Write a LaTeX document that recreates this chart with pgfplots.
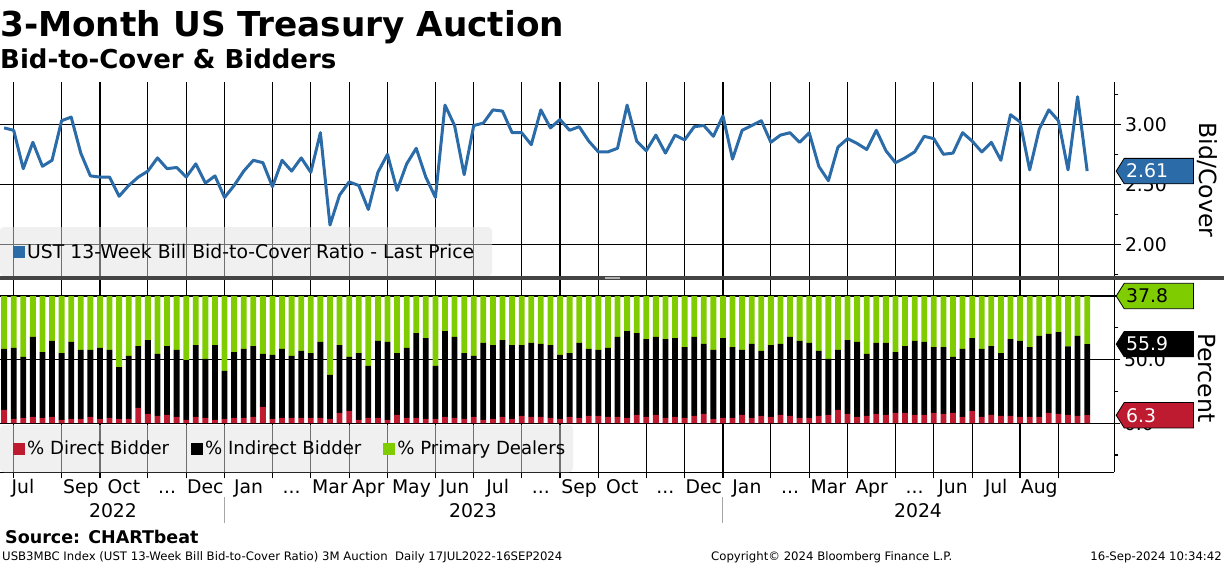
\documentclass[border=0pt]{standalone}
\usepackage{fontspec}
\setmainfont{DejaVu Sans}
\usepackage{pgfplots}
\pgfplotsset{compat=1.18}
\usepackage{pgfplotstable}
\definecolor{bbblue}{HTML}{2B6BA8}
\definecolor{bbred}{HTML}{BE1A30}
\definecolor{bbgreen}{HTML}{7FCC00}
\definecolor{leggray}{HTML}{E1E1E1}
\definecolor{sepgray}{HTML}{444444}
\newcommand{\fs}{\fontsize{18.8pt}{22pt}\selectfont}
\newcommand{\dd}{.\kern0pt.\kern0pt.}

\pgfplotstableread{
i btc dir ind pd
0 2.97 10.5 47.9 41.6
1 2.95 3.4 55.8 40.8
2 2.63 4.2 47.9 47.9
3 2.85 5.0 62.8 32.2
4 2.65 4.2 51.8 44.0
5 2.70 5.0 59.7 35.3
6 3.03 2.6 52.6 44.8
7 3.06 3.4 60.5 36.1
8 2.76 3.4 54.2 42.4
9 2.57 5.0 52.6 42.4
10 2.56 3.4 55.8 40.8
11 2.56 4.2 53.4 42.4
12 2.40 3.4 40.8 55.8
13 2.49 3.4 49.5 47.1
14 2.56 12.0 48.7 39.3
15 2.61 7.3 58.1 34.6
16 2.72 5.8 48.7 45.5
17 2.63 6.5 54.2 39.3
18 2.64 5.0 52.6 42.4
19 2.56 2.6 47.1 50.3
20 2.67 5.0 56.5 38.5
21 2.51 4.2 46.3 49.5
22 2.57 2.6 58.9 38.5
23 2.39 3.4 37.7 58.9
24 2.49 4.2 51.8 44.0
25 2.61 4.2 54.2 41.6
26 2.70 5.0 55.7 39.3
27 2.68 12.8 41.7 45.5
28 2.48 3.4 50.3 46.3
29 2.70 4.2 54.2 41.6
30 2.61 4.2 48.7 47.1
31 2.72 4.2 52.6 43.2
32 2.60 4.2 51.0 44.8
33 2.93 4.2 59.7 36.1
34 2.16 3.4 34.6 62.0
35 2.41 8.1 53.4 38.5
36 2.52 9.7 42.4 47.9
37 2.49 2.6 52.6 44.8
38 2.29 4.2 40.8 55.0
39 2.60 4.2 60.5 35.3
40 2.75 2.6 61.3 36.1
41 2.45 6.5 48.7 44.8
42 2.67 4.2 55.0 40.8
43 2.80 4.2 66.7 29.1
44 2.56 3.4 63.6 33.0
45 2.39 3.4 41.6 55.0
46 3.16 5.0 67.5 27.5
47 2.99 4.2 63.6 32.2
48 2.58 3.4 51.8 44.8
49 2.99 5.0 47.9 47.1
50 3.01 2.6 60.5 36.9
51 3.12 3.4 58.1 38.5
52 3.11 5.0 60.4 34.6
53 2.93 3.4 58.1 38.5
54 2.93 5.8 55.7 38.5
55 2.83 5.0 58.1 36.9
56 3.12 5.0 57.3 37.7
57 2.97 4.2 57.3 38.5
58 3.04 3.4 50.3 46.3
59 2.95 5.0 50.2 44.8
60 2.98 4.2 58.9 36.9
61 2.86 5.8 52.6 41.6
62 2.77 5.8 51.8 42.4
63 2.77 5.0 54.2 40.8
64 2.80 5.0 62.8 32.2
65 3.16 4.2 68.3 27.5
66 2.86 6.5 64.4 29.1
67 2.78 5.0 61.2 33.8
68 2.91 6.5 61.3 32.2
69 2.76 4.2 62.0 33.8
70 2.91 5.0 62.0 33.0
71 2.87 4.2 55.7 40.1
72 2.98 5.8 62.0 32.2
73 2.99 7.3 55.0 37.7
74 2.90 3.4 54.2 42.4
75 3.07 4.2 62.8 33.0
76 2.71 4.2 55.7 40.1
77 2.95 6.5 51.1 42.4
78 2.99 4.2 58.1 37.7
79 3.03 5.8 51.0 43.2
80 2.85 5.0 56.5 38.5
81 2.91 6.5 55.8 37.7
82 2.93 5.8 62.0 32.2
83 2.85 4.2 60.5 35.3
84 2.93 4.2 58.9 36.9
85 2.65 5.8 51.0 43.2
86 2.53 6.5 44.0 49.5
87 2.81 10.5 47.1 42.4
88 2.88 7.3 58.1 34.6
89 2.84 5.0 58.9 36.1
90 2.79 5.8 48.7 45.5
91 2.95 7.3 55.8 36.9
92 2.78 6.5 56.6 36.9
93 2.68 8.1 47.9 44.0
94 2.72 8.1 52.6 39.3
95 2.77 6.5 58.2 35.3
96 2.90 6.5 57.4 36.1
97 2.88 8.1 51.8 40.1
98 2.75 7.3 52.6 40.1
99 2.76 8.1 44.0 47.9
100 2.93 5.0 53.4 41.6
101 2.86 9.7 57.3 33.0
102 2.77 5.0 53.4 41.6
103 2.85 6.5 54.2 39.3
104 2.70 5.8 49.4 44.8
105 3.08 5.8 60.4 33.8
106 3.02 5.0 59.7 35.3
107 2.62 5.0 54.9 40.1
108 2.96 5.0 63.6 31.4
109 3.12 8.1 62.1 29.8
110 3.03 7.3 64.4 28.3
111 2.62 6.5 54.0 39.5
112 3.23 5.8 62.8 31.4
113 2.61 6.3 55.9 37.8
}\data

% value tag drawn at a named coordinate on the right axis
\newcommand{\valtag}[4]{%
  \draw[fill=#2, draw=black, line width=0.8pt] (#1) ++(1.7pt,0pt) -- ++(8pt,12.7pt) -- ++(69.3pt,0pt) -- ++(0pt,-25.4pt) -- ++(-69.3pt,0pt) -- cycle;
  \node[anchor=west, text=#3, font=\fs, inner sep=0pt, xshift=11.5pt] at (#1) {#4};
}

\pgfplotsset{
  sqlegend/.style={legend image code/.code={\fill[##1, draw=none, sharp corners] (0pt,-6pt) rectangle (12pt,6pt);}},
  bbstyle/.style={
    scale only axis, width=1114.5pt,
    xmin=-0.428, xmax=115.85,
    xtick={1,6,10,15,19,23,28,32,36,40,45,49,54,58,62,67,71,75,80,84,88,93,97,101,106,110},
    xticklabels={},
    grid=major, major grid style={black, line width=1.2pt},
    tick align=outside, major tick length=7pt, minor tick length=4pt,
    axis line style={black, line width=1.2pt},
    tick style={black, line width=1.2pt},
    clip=false,
    legend style={anchor=west, fill=none, draw=none, font=\fs,
      inner xsep=13pt, inner ysep=0pt,
      /tikz/every even column/.append style={column sep=20pt}},
    legend cell align=left,
    sqlegend,
  }
}

\begin{document}
\begin{tikzpicture}
\useasboundingbox (0,0) rectangle (1224pt,-566pt);

% ---------- top panel ----------
\begin{axis}[bbstyle,
  at={(0pt,-276.3pt)}, anchor=south west, height=194pt,
  ymin=1.733, ymax=3.35,
  axis y line*=right, axis x line*=bottom,
  x axis line style={draw=none}, xtick style={draw=none},
  ytick={2,2.5,3}, minor ytick={1.75,2.25,2.75,3.25},
  yticklabel style={font=\fs, /pgf/number format/.cd, fixed, fixed zerofill, precision=2, assume math mode=true},
  legend style={at={(0,0.1273)}},
]
\addplot[bbblue, line width=3pt, line join=round, sqlegend] table[x=i, y=btc]{\data};
\addlegendentry{UST 13-Week Bill Bid-to-Cover Ratio - Last Price}
\fill[leggray, fill opacity=0.5, rounded corners=4pt] (rel axis cs:0,0) rectangle ++(492pt,49.3pt);
\coordinate (tagA) at (axis cs:115.85,2.61);
\end{axis}

% ---------- bottom panel ----------
\begin{axis}[bbstyle,
  at={(0pt,-472.3pt)}, anchor=south west, height=193.3pt,
  ymin=-38.6, ymax=113.4,
  ybar stacked, bar width=5.8pt,
  axis y line*=right, axis x line*=bottom,
  major tick length=6pt,
  extra x ticks={1.97,8,12.5,17,21,25.5,30,34,38,42.5,47,51.5,56,60,64.5,69,73,77.5,82,86,90.5,95,99,103.5,108},
  extra x tick labels={Jul,Sep,Oct,{\dd},Dec,Jan,{\dd},Mar,Apr,May,Jun,Jul,{\dd},Sep,Oct,{\dd},Dec,Jan,{\dd},Mar,Apr,{\dd},Jun,Jul,Aug},
  extra x tick style={grid=none, major tick length=0pt},
  xticklabel style={font=\fs, text height=14pt, text depth=4pt, yshift=-4pt},
  ytick={0,50,100}, minor ytick={-25,25,75},
  yticklabel style={font=\fs, /pgf/number format/.cd, fixed, fixed zerofill, precision=1, assume math mode=true},
  legend columns=3,
  legend style={at={(0,0.1226)}, font=\fontsize{18.1pt}{21pt}\selectfont},
]
\addplot[fill=bbred, draw=none, sqlegend] table[x=i, y=dir]{\data};
\addlegendentry{\% Direct Bidder}
\addplot[fill=black, draw=none, sqlegend] table[x=i, y=ind]{\data};
\addlegendentry{\% Indirect Bidder}
\addplot[fill=bbgreen, draw=none, sqlegend] table[x=i, y=pd]{\data};
\addlegendentry{\% Primary Dealers}
\fill[leggray, fill opacity=0.5, rounded corners=4pt] (rel axis cs:0,0) rectangle ++(573pt,47.3pt);
\coordinate (tagB) at (axis cs:115.85,100);
\coordinate (tagC) at (axis cs:115.85,62.2);
\coordinate (tagD) at (axis cs:115.85,6.3);
\end{axis}

% value tags
\valtag{tagA}{bbblue}{white}{2.61}
\valtag{tagB}{bbgreen}{black}{37.8}
\valtag{tagC}{black}{white}{55.9}
\valtag{tagD}{bbred}{white}{6.3}

% separator between panels
\fill[sepgray] (0pt,-276pt) rectangle (1224pt,-279.5pt);
\draw[gray!60, line width=0.6pt] (605pt,-277.2pt) -- (620pt,-277.2pt);
\draw[gray!60, line width=0.6pt] (605pt,-278.4pt) -- (620pt,-278.4pt);

% axis titles
\node[rotate=-90, font=\fontsize{23.6pt}{26pt}\selectfont] at (1207pt,-180pt) {Bid/Cover};
\node[rotate=-90, font=\fontsize{23.6pt}{26pt}\selectfont] at (1207pt,-378pt) {Percent};

% years
\node[font=\fs] at (113pt,-511pt) {2022};
\node[font=\fs] at (473pt,-511pt) {2023};
\node[font=\fs] at (918pt,-511pt) {2024};
\draw[gray!70, line width=1pt] (224.6pt,-497pt) -- (224.6pt,-523pt);
\draw[gray!70, line width=1pt] (722.5pt,-497pt) -- (722.5pt,-523pt);

% titles
\node[anchor=base west, inner sep=0pt, font=\fontsize{34.3pt}{38pt}\selectfont\bfseries] at (0pt,-36pt) {3-Month US Treasury Auction};
\node[anchor=base west, inner sep=0pt, font=\fontsize{26pt}{28pt}\selectfont\bfseries] at (0pt,-68.3pt) {Bid-to-Cover \& Bidders};

% footer
\node[anchor=base west, inner sep=0pt, font=\fontsize{17.5pt}{20pt}\selectfont\bfseries] at (5pt,-543.5pt) {Source: CHARTbeat};
\node[anchor=base west, inner sep=0pt, font=\fontsize{11.7pt}{14pt}\selectfont] at (2pt,-560.5pt) {USB3MBC Index (UST 13-Week Bill Bid-to-Cover Ratio) 3M Auction\ \ Daily 17JUL2022-16SEP2024};
\node[anchor=base west, inner sep=0pt, font=\fontsize{11.7pt}{14pt}\selectfont] at (711pt,-560.5pt) {Copyright© 2024 Bloomberg Finance L.P.};
\node[anchor=base east, inner sep=0pt, font=\fontsize{11.7pt}{14pt}\selectfont] at (1222pt,-560.5pt) {16-Sep-2024 10:34:42};
\end{tikzpicture}
\end{document}
